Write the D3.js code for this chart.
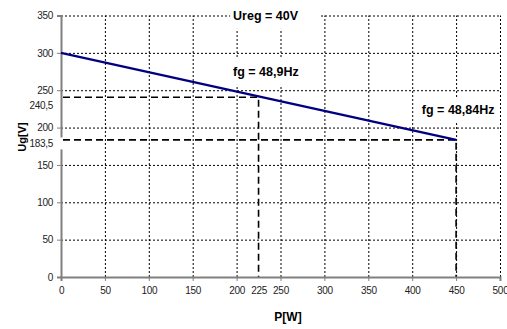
<!DOCTYPE html>
<html>
<head>
<meta charset="utf-8">
<script src="https://cdn.jsdelivr.net/npm/d3@7"></script>
<style>
  body { margin: 0; background: #fff; }
  svg { display: block; font-family: "Liberation Sans", Arial, sans-serif; }
</style>
</head>
<body>
<svg id="chart"></svg>
<script>
// values
const powerW = [0, 450];
const voltageV = [300, 183.5];
const xTicks = [0, 50, 100, 150, 200, 250, 300, 350, 400, 450, 500];
const yTicks = [0, 50, 100, 150, 200, 250, 300, 350];
const markX = [225, 450];
const markY = [240.5, 183.5];
const notes = [
  { text: "Ureg = 40V", p: 196, u: 350, padL: 3, padR: 22 },
  { text: "fg = 48,9Hz", p: 196, u: 275, padL: 4, padR: 4 },
  { text: "fg = 48,84Hz", p: 411, u: 224, padL: 4, padR: 4 }
];

const w = 507, h = 329;
const m = { top: 15.5, right: 7, bottom: 52, left: 61 };

const svg = d3.select("#chart").attr("width", w).attr("height", h);

const x = d3.scaleLinear().domain([0, 500]).range([m.left, w - m.right]);
const y = d3.scaleLinear().domain([0, 350]).range([h - m.bottom, m.top]);

// dotted grid
const grid = svg.append("g").attr("stroke", "#000").attr("stroke-width", 1).attr("stroke-dasharray", "2,2");
grid.selectAll("line.gx").data(xTicks.slice(1)).enter().append("line")
  .attr("x1", d => x(d) + 0.5).attr("x2", d => x(d) + 0.5)
  .attr("y1", y(0)).attr("y2", y(350));
grid.selectAll("line.gy").data(yTicks.slice(1)).enter().append("line")
  .attr("x1", x(0)).attr("x2", x(500))
  .attr("y1", d => y(d) + 0.5).attr("y2", d => y(d) + 0.5);

// reference dashed lines
const dash = svg.append("g").attr("stroke", "#000").attr("stroke-width", 1.6).attr("stroke-dasharray", "7,4").attr("fill", "none");
markX.forEach((px, i) => {
  dash.append("path")
    .attr("d", d3.line()([[x(0) + 2, y(markY[i])], [x(px), y(markY[i])], [x(px), y(0)]]));
});

// axes
const xAxis = d3.axisBottom(x).tickValues(xTicks.concat([225])).tickSize(4).tickPadding(6);
const yAxis = d3.axisLeft(y).tickValues(yTicks.concat(markY)).tickSize(4).tickPadding(4)
  .tickFormat(d => String(d).replace(".", ","));

const gx = svg.append("g").attr("transform", `translate(0,${y(0)})`).call(xAxis);
const gy = svg.append("g").attr("transform", `translate(${x(0)},0)`).call(yAxis);

[gx, gy].forEach(g => {
  g.select(".domain").attr("stroke", "#808080").attr("stroke-width", 2);
  g.selectAll(".tick line").attr("stroke", "#808080");
  g.selectAll(".tick text").attr("fill", "#222").style("font-size", "10px").style("letter-spacing", "-0.3px");
});
gx.selectAll(".tick").filter(d => d === 225).select("line").remove();

// the extra value labels sit a little below their dashed line
const shiftY = { 240.5: 8, 183.5: 3 };
gy.selectAll(".tick").filter(d => markY.includes(d)).each(function(d) {
  const t = d3.select(this);
  t.select("line").remove();
  t.select("text").attr("y", shiftY[d]);
  if (d === 183.5) {
    t.insert("rect", "text").attr("x", -22).attr("y", -3).attr("width", 24).attr("height", 12).attr("fill", "#fff");
  }
});

// data line
svg.append("path")
  .datum(powerW.map((p, i) => [p, voltageV[i]]))
  .attr("fill", "none").attr("stroke", "#000080").attr("stroke-width", 2.5)
  .attr("d", d3.line().x(d => x(d[0])).y(d => y(d[1])));

// annotations with white background
notes.forEach(n => {
  const g = svg.append("g");
  const t = g.append("text").attr("x", x(n.p)).attr("y", y(n.u))
    .attr("dy", "0.35em")
    .style("font-size", "12.5px").style("font-weight", "bold").text(n.text);
  const b = t.node().getBBox();
  g.insert("rect", "text").attr("x", b.x - n.padL).attr("y", b.y - 6)
    .attr("width", b.width + n.padL + n.padR).attr("height", b.height + 12).attr("fill", "#fff");
});

// axis titles
svg.append("text").attr("x", 288).attr("y", 321).attr("text-anchor", "middle")
  .style("font-size", "12px").style("font-weight", "bold").text("P[W]");
svg.append("text").attr("transform", `translate(26,137) rotate(-90)`).attr("text-anchor", "middle")
  .style("font-size", "11px").style("font-weight", "bold").text("Ug[V]");
</script>
</body>
</html>
